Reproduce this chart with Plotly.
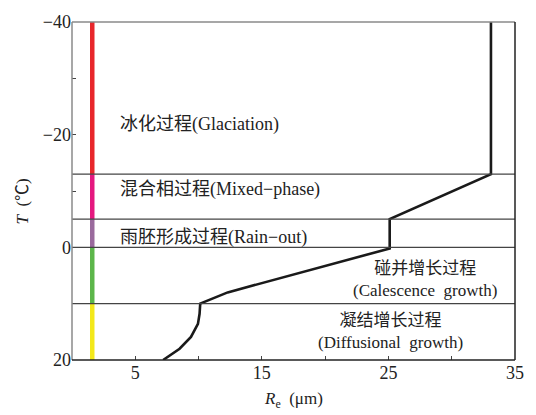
import plotly.graph_objects as go

# Effective radius profile versus temperature
re_um = [7.2, 8.5, 9.4, 9.95, 10.08, 10.13, 12.3, 25.1, 25.1, 33.1, 33.1]
temp_c = [20, 18, 15.9, 13.6, 11.8, 10, 8.0, 0.2, -5, -13, -40]

# Process zone boundaries (°C) and colour bar segments
zone_bounds = [-13, -5, 0, 10]
bar_x = 1.6
bar_segments = [(-40, -13), (-13, -5), (-5, 0), (0, 10), (10, 20.4)]
bar_colors = ["#E8272B", "#E5187F", "#9A6A9D", "#5CB64A", "#F3E81A"]

x_ticks = [5, 15, 25, 35]
x_labels = ["5", "15", "25", "35"]
x_minor = [10, 20, 30]
y_ticks = [-40, -20, 0, 20]
y_labels = ["−40", "−20", "0", "20"]
y_minor = [-30, -10, 10]

FONT = "Liberation Serif, Noto Sans CJK SC, serif"

fig = go.Figure()

for (t0, t1), c in zip(bar_segments, bar_colors):
    fig.add_trace(go.Scatter(x=[bar_x, bar_x], y=[t0, t1], mode="lines",
                             line=dict(color=c, width=4.5), hoverinfo="skip",
                             cliponaxis=False))

for b in zone_bounds:
    fig.add_shape(type="line", xref="paper", x0=0, x1=1, yref="y", y0=b, y1=b,
                  line=dict(color="#444444", width=1.2))

fig.add_trace(go.Scatter(x=re_um, y=temp_c, mode="lines",
                         line=dict(color="#1a1a1a", width=2.6)))

# frame: left/top grey, right/bottom dark
fig.add_shape(type="line", xref="paper", yref="paper", x0=0, x1=0, y0=0, y1=1,
              line=dict(color="#8a8a8a", width=1.5))
fig.add_shape(type="line", xref="paper", yref="paper", x0=0, x1=1, y0=1, y1=1,
              line=dict(color="#8a8a8a", width=1.5))
fig.add_shape(type="line", xref="paper", yref="paper", x0=1, x1=1, y0=0, y1=1,
              line=dict(color="#222222", width=1.5))
fig.add_shape(type="line", xref="paper", yref="paper", x0=0, x1=1, y0=0, y1=0,
              line=dict(color="#222222", width=1.5))

labels = [
    ("冰化过程(Glaciation)", 3.6, -21.8, "left", 18),
    ("混合相过程(Mixed−phase)", 3.6, -10.3, "left", 18),
    ("雨胚形成过程(Rain−out)", 3.6, -1.7, "left", 18),
    ("碰并增长过程<br>(Calescence  growth)", 27.9, 5.75, "center", 17),
    ("凝结增长过程<br>(Diffusional  growth)", 25.2, 14.9, "center", 17),
]
for txt, x, y, anc, sz in labels:
    fig.add_annotation(x=x, y=y, text=txt, showarrow=False, xanchor=anc,
                       yanchor="middle", align="center",
                       font=dict(family=FONT, size=sz, color="#222"))

fig.add_annotation(xref="paper", yref="paper", x=-0.112, y=0.47, xanchor="center",
                   yanchor="middle", textangle=-90, showarrow=False,
                   text="<i>T</i>  (℃)", font=dict(family=FONT, size=17, color="#222"))
fig.add_annotation(xref="paper", yref="paper", x=0.5, y=-0.118, xanchor="center",
                   yanchor="middle", showarrow=False,
                   text="<i>R</i><sub>e</sub>  (μm)", font=dict(family=FONT, size=17, color="#222"))

fig.update_xaxes(range=[0, 35], tickvals=x_ticks, ticktext=x_labels,
                 ticks="inside", ticklen=4, tickcolor="#444", showgrid=False,
                 minor=dict(tickvals=x_minor, ticks="inside", ticklen=4,
                            tickcolor="#444", showgrid=False),
                 zeroline=False, showline=False,
                 tickfont=dict(family=FONT, size=18, color="#222"))
fig.update_yaxes(range=[20, -40], tickvals=y_ticks, ticktext=y_labels,
                 ticks="inside", ticklen=4, tickcolor="#444", showgrid=False,
                 minor=dict(tickvals=y_minor, ticks="inside", ticklen=4,
                            tickcolor="#444", showgrid=False),
                 zeroline=False, showline=False,
                 tickfont=dict(family=FONT, size=18, color="#222"))

fig.update_layout(width=536, height=415, margin=dict(l=72, r=16, t=17, b=55),
                  plot_bgcolor="white", paper_bgcolor="white", showlegend=False)

fig.write_html("out.html")
